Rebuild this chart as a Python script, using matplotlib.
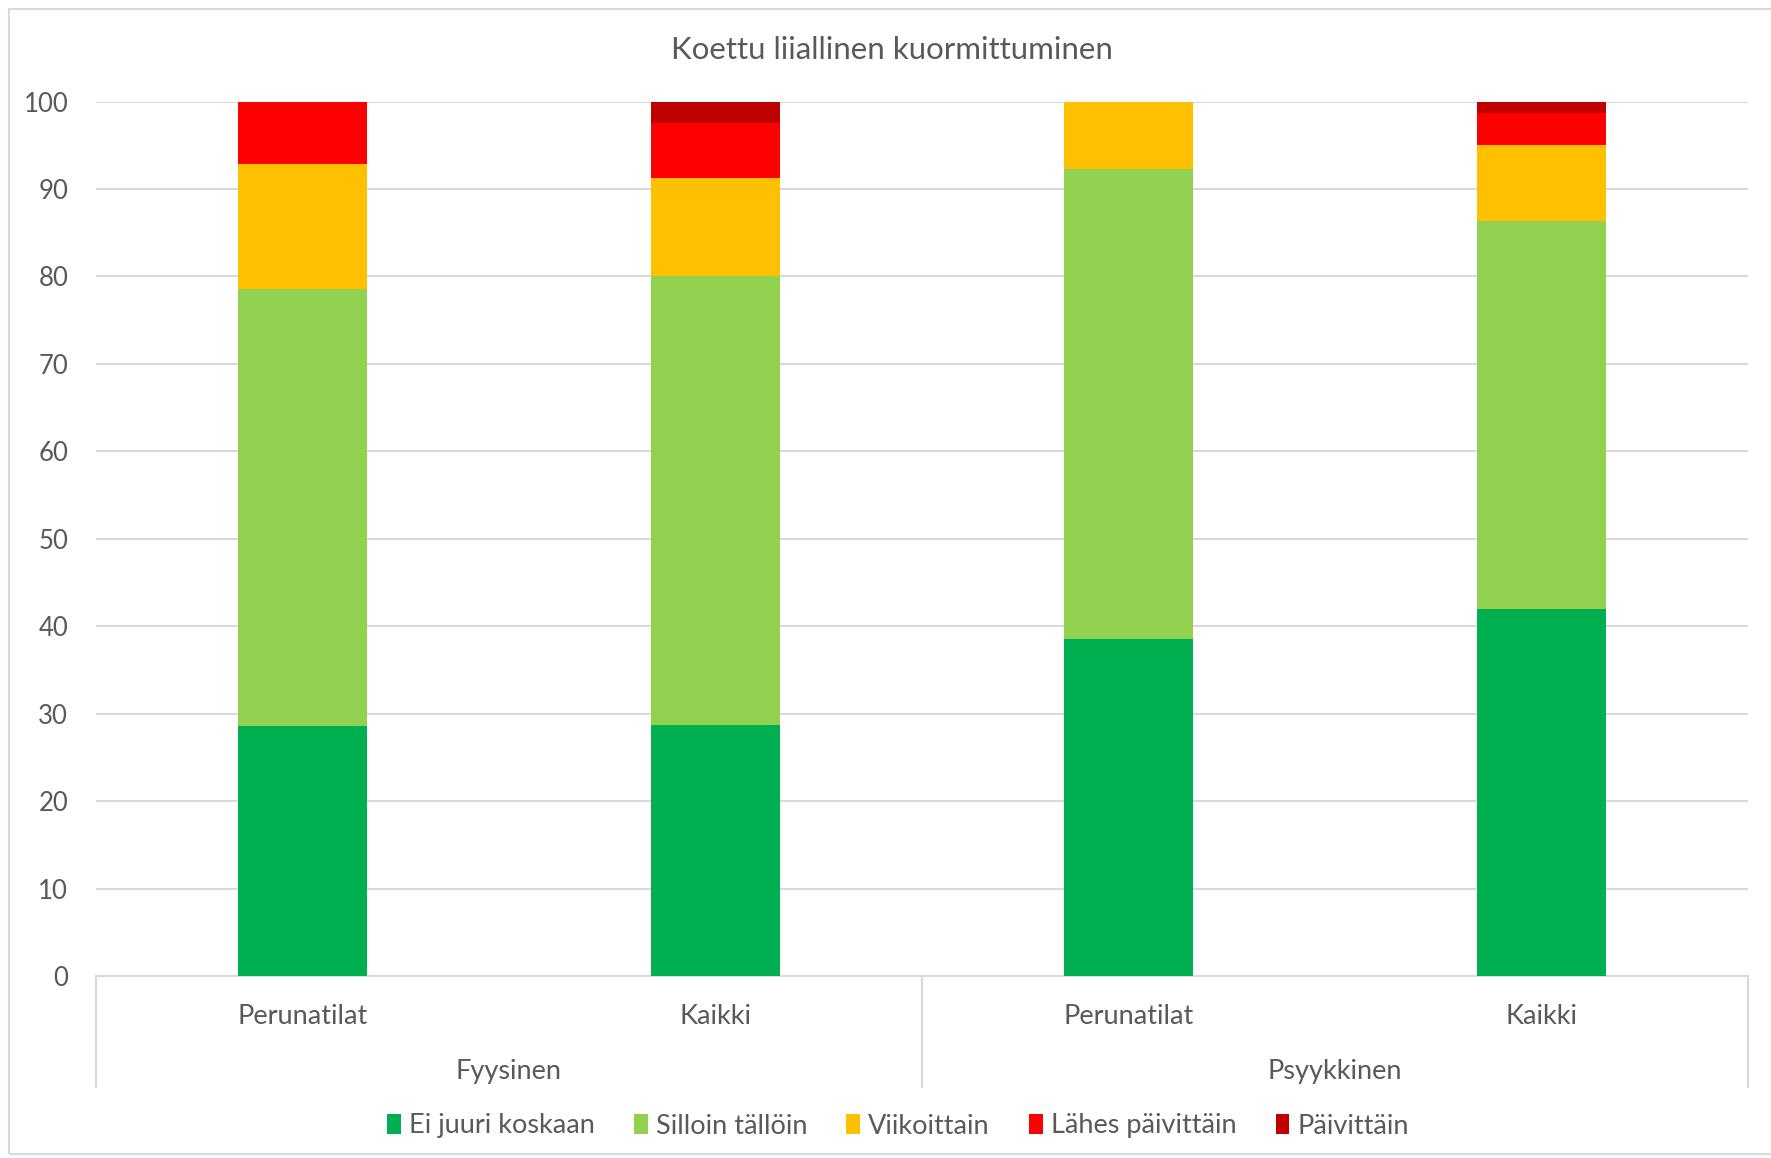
import matplotlib
matplotlib.use('Agg')
import matplotlib.pyplot as plt
from matplotlib.patches import Rectangle
import numpy as np

plt.rcParams['font.family'] = ['Lato', 'DejaVu Sans']

TITLE = "Koettu liiallinen kuormittuminen"
categories = ['Perunatilat', 'Kaikki', 'Perunatilat', 'Kaikki']
groups = ['Fyysinen', 'Psyykkinen']
series_names = ['Ei juuri koskaan', 'Silloin tällöin', 'Viikoittain', 'Lähes päivittäin', 'Päivittäin']
colors = ['#00B050', '#92D050', '#FFC000', '#FF0000', '#C00000']

ei_juuri_koskaan = [28.6, 28.75, 38.5, 42.0]
silloin_talloin = [50.0, 51.25, 53.8, 44.4]
viikoittain = [14.3, 11.25, 7.7, 8.6]
lahes_paivittain = [7.1, 6.25, 0.0, 3.7]
paivittain = [0.0, 2.5, 0.0, 1.3]

values = [ei_juuri_koskaan, silloin_talloin, viikoittain, lahes_paivittain, paivittain]

W, H = 1771, 1158
fig = plt.figure(figsize=(W / 100, H / 100), dpi=100)
ax = fig.add_axes([96 / W, 1 - 976 / H, (1748 - 96) / W, (976 - 101.6) / H])

txt = '#595959'
grid = '#D9D9D9'

x = np.arange(len(categories))
bottom = np.zeros(len(categories))
for name, vals, c in zip(series_names, values, colors):
    ax.bar(x, vals, 0.314, bottom=bottom, color=c, label=name, zorder=3)
    bottom += np.array(vals)

ax.set_xlim(-0.5, 3.5)
ax.set_ylim(0, 100)
ax.set_yticks(range(0, 101, 10))
ax.set_xticks([])
ax.tick_params(axis='y', length=0, labelsize=18.5, labelcolor=txt, pad=20)
ax.grid(axis='y', color=grid, linewidth=1.5, zorder=0)
for s in ['top', 'right', 'left']:
    ax.spines[s].set_visible(False)
ax.spines['bottom'].set_color(grid)
ax.spines['bottom'].set_linewidth(1.5)

# category axis
for xv in [-0.5, 1.5, 3.5]:
    ax.plot([xv, xv], [0, -12.7], color=grid, lw=1.5, clip_on=False)
for xi, lab in zip(x, categories):
    ax.text(xi, -4.6, lab, ha='center', va='center', fontsize=19.5, color=txt)
for gi, g in enumerate(groups):
    ax.text(2 * gi + 0.5, -10.9, g, ha='center', va='center', fontsize=19.5, color=txt)

fig.text(892 / W, 1 - 50 / H, TITLE, ha='center', va='center', fontsize=22.5, color=txt)

fig.legend(loc='center', bbox_to_anchor=(898 / W, 1 - 1126 / H), ncol=5, frameon=False,
           fontsize=19.5, labelcolor=txt, handlelength=0.5, handleheight=0.8,
           handletextpad=0.3, columnspacing=1.45)

fig.patches.append(Rectangle((9 / W, 1 - 1154 / H), 1.0, (1154 - 9) / H, fill=False,
                             edgecolor=grid, lw=1.5, transform=fig.transFigure))

fig.savefig('out.png', dpi=100)
